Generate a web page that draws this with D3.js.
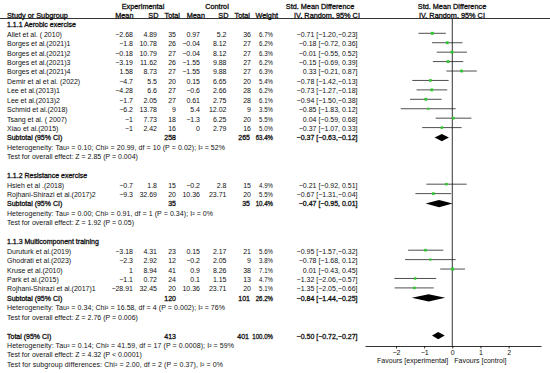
<!DOCTYPE html>
<html>
<head>
<meta charset="utf-8">
<script src="https://cdn.jsdelivr.net/npm/d3@7"></script>
<style>
  body { margin: 0; background: #fff; }
  svg text { font-family: "Liberation Sans", Arial, sans-serif; font-size: 7px; fill: #111; }
  /* the reference uses a thickened regular face for bold, same widths as normal text */
  .b { stroke: #111; stroke-width: 0.3px; }
  .h { font-size: 7.3px; }
</style>
</head>
<body>
<div id="chart"></div>
<script>
// forest plot data
const groupTitles = ["1.1.1 Aerobic exercise", "1.1.2 Resistance exercise", "1.1.3 Multicomponent training"];
const groupOf = [0,0,0,0,0,0,0,0,0,0,0, 1,1, 2,2,2,2,2];
const studies = [
  "Allet et al. ( 2010)", "Borges et al.(2021)1", "Borges et al.(2021)2", "Borges et al.(2021)3",
  "Borges et al.(2021)4", "Demir et al et al. (2022)", "Lee et al.(2013)1", "Lee et al.(2013)2",
  "Schmid et al.(2018)", "Tsang et al.  ( 2007)", "Xiao et al.(2015)",
  "Hsieh et al .(2018)", "Rojhani-Shirazi et al.(2017)2",
  "Duruturk et al.(2019)", "Ghodrati et al.(2023)", "Kruse et al.(2010)", "Park et al.(2015)",
  "Rojhani-Shirazi et al.(2017)1"
];
const expMean = ["-2.68","-1.8","-0.18","-3.19","1.58","-4.7","-4.28","-1.7","-6.2","-1","-1","-0.7","-9.3","-3.18","-2.3","1","-1.1","-28.91"];
const expSD = ["4.89","10.78","10.79","11.62","8.73","5.5","6.6","2.05","13.78","7.73","2.42","1.8","32.69","4.31","2.92","8.94","0.72","32.45"];
const expTotal = [35,26,27,26,27,20,27,27,9,18,16,15,20,23,12,41,24,20];
const ctlMean = ["0.97","-0.04","-0.04","-1.55","-1.55","0.15","-0.6","0.61","5.4","-1.3","0","-0.2","10.36","0.15","-0.2","0.9","0.1","10.36"];
const ctlSD = ["5.2","8.12","8.12","9.88","9.88","6.65","2.66","2.75","12.02","6.25","2.79","2.8","23.71","2.17","2.05","8.26","1.15","23.71"];
const ctlTotal = [36,27,27,27,27,20,28,28,9,20,16,15,20,21,9,38,13,20];
const weight = [6.7,6.2,6.3,6.2,6.3,5.4,6.2,6.1,3.5,5.5,5.0,4.9,5.5,5.6,3.8,7.1,4.7,5.1];
const smd = [-0.71,-0.18,-0.01,-0.15,0.33,-0.78,-0.73,-0.94,-0.85,0.04,-0.37,-0.21,-0.67,-0.95,-0.78,0.01,-1.32,-1.35];
const ciLo = [-1.20,-0.72,-0.55,-0.69,-0.21,-1.42,-1.27,-1.50,-1.83,-0.59,-1.07,-0.92,-1.31,-1.57,-1.68,-0.43,-2.06,-2.05];
const ciHi = [-0.23,0.36,0.52,0.39,0.87,-0.13,-0.18,-0.38,0.12,0.68,0.33,0.51,-0.04,-0.32,0.12,0.45,-0.57,-0.66];

const subExpTotal = [258, 35, 120];
const subCtlTotal = [265, 35, 101];
const subWeight = [63.4, 10.4, 26.2];
const subSmd = [-0.37, -0.47, -0.84];
const subLo = [-0.63, -0.95, -1.44];
const subHi = [-0.12, 0.01, -0.25];
const subHetero = [
  "Heterogeneity: Tau\u00b2 = 0.10; Chi\u00b2 = 20.99, df = 10 (P = 0.02); I\u00b2 = 52%",
  "Heterogeneity: Tau\u00b2 = 0.00; Chi\u00b2 = 0.91, df = 1 (P = 0.34); I\u00b2 = 0%",
  "Heterogeneity: Tau\u00b2 = 0.34; Chi\u00b2 = 16.58, df = 4 (P = 0.002); I\u00b2 = 76%"
];
const subHeteroWidth = [218, 206, 218];
const subTest = [
  "Test for overall effect: Z = 2.85 (P = 0.004)",
  "Test for overall effect: Z = 1.92 (P = 0.05)",
  "Test for overall effect: Z = 2.76 (P = 0.006)"
];

const totalExp = 413, totalCtl = 401, totalWeight = 100.0;
const totalSmd = -0.50, totalLo = -0.72, totalHi = -0.27;
const totalNotes = [
  "Heterogeneity: Tau\u00b2 = 0.14; Chi\u00b2 = 41.59, df = 17 (P = 0.0008); I\u00b2 = 59%",
  "Test for overall effect: Z = 4.32 (P < 0.0001)",
  "Test for subgroup differences: Chi\u00b2 = 2.00, df = 2 (P = 0.37), I\u00b2 = 0%"
];
const totalNotesWidth = [227, null, 216];
const axisTicks = [-2, -1, 0, 1, 2];

const width = 550, height = 373;
const svg = d3.select("#chart").append("svg").attr("width", width).attr("height", height);

const minus = s => String(s).replace(/-/g, "\u2212");
const f2 = v => minus(v.toFixed(2));
const ciText = (m, lo, hi) => `${f2(m)} [${f2(lo)},${hi >= 0 ? " " : ""}${f2(hi)}]`;

// row positions
const rowY = i => 34.3 + 9.43 * i;

// column right edges
const col = { name: 7, eMean: 133, eSD: 157, eTot: 176, cMean: 200, cSD: 226.5, cTot: 251, wt: 273, ci: 357.5 };

const x = d3.scaleLinear().domain([-3.1, 3.15]).range([365, 541]);
const sq = d3.scaleSqrt().domain([0, 7.1]).range([0, 3]);
const axisY = 346;

function txt(xp, yp, s, anchor = "start", cls = null, len = null) {
  const t = svg.append("text").attr("x", xp).attr("y", yp).attr("dy", "0.35em")
    .attr("text-anchor", anchor).attr("class", cls).text(s);
  if (len) t.attr("textLength", len).attr("lengthAdjust", "spacing");
  return t;
}
// weight column is set a bit narrower in the reference
function wtxt(yp, v, cls = null) {
  const t = txt(col.wt, yp, v.toFixed(1) + "%", "end", cls);
  const w = t.node().getComputedTextLength();
  t.attr("textLength", w * 0.87).attr("lengthAdjust", "spacingAndGlyphs");
}
function diamond(yp, m, lo, hi) {
  svg.append("path")
    .attr("d", `M${x(lo)},${yp}L${x(m)},${yp - 3.6}L${x(hi)},${yp}L${x(m)},${yp + 3.6}Z`)
    .attr("fill", "#000");
}

// header
txt(143, rowY(-3), "Experimental", "middle", "b h");
txt(217, rowY(-3), "Control", "middle", "b h");
txt(320, rowY(-3), "Std. Mean Difference", "middle", "b h");
txt(452, rowY(-3), "Std. Mean Difference", "middle", "b h");
const hy = rowY(-2);
txt(col.name, hy, "Study or Subgroup", "start", "b h");
txt(133.5, hy, "Mean", "end", "b h");
txt(158.5, hy, "SD", "end", "b h");
txt(180, hy, "Total", "end", "b h");
txt(205, hy, "Mean", "end", "b h");
txt(228.5, hy, "SD", "end", "b h");
txt(250, hy, "Total", "end", "b h");
txt(278, hy, "Weight", "end", "b h");
txt(327, hy, "IV, Random, 95% CI", "middle", "b h");
txt(452, hy, "IV, Random, 95% CI", "middle", "b h");
svg.append("line").attr("x1", 0).attr("x2", width).attr("y1", 18.5).attr("y2", 18.5)
  .attr("stroke", "#000").attr("stroke-width", 0.8);

// zero line
svg.append("line").attr("x1", x(0)).attr("x2", x(0)).attr("y1", 18.5).attr("y2", axisY)
  .attr("stroke", "#000").attr("stroke-width", 0.8);

let r = -1;
groupTitles.forEach((title, g) => {
  txt(col.name, rowY(r), title, "start", "b");
  r++;
  studies.forEach((name, i) => {
    if (groupOf[i] !== g) return;
    const y = rowY(r);
    txt(col.name, y, name);
    txt(col.eMean, y, minus(expMean[i]), "end");
    txt(col.eSD, y, expSD[i], "end");
    txt(col.eTot, y, expTotal[i], "end");
    txt(col.cMean, y, minus(ctlMean[i]), "end");
    txt(col.cSD, y, ctlSD[i], "end");
    txt(col.cTot, y, ctlTotal[i], "end");
    wtxt(y, weight[i]);
    txt(col.ci, y, ciText(smd[i], ciLo[i], ciHi[i]), "end");
    const ly = y - 1;
    svg.append("line").attr("x1", x(ciLo[i])).attr("x2", x(ciHi[i])).attr("y1", ly).attr("y2", ly)
      .attr("stroke", "#222").attr("stroke-width", 0.8);
    const s = sq(weight[i]);
    svg.append("rect").attr("x", x(smd[i]) - s / 2).attr("y", ly - s / 2)
      .attr("width", s).attr("height", s).attr("fill", "#2ec82e");
    r++;
  });
  const y = rowY(r);
  txt(col.name, y, "Subtotal (95% CI)", "start", "b");
  txt(col.eTot, y, subExpTotal[g], "end", "b");
  txt(col.cTot - 1, y, subCtlTotal[g], "end", "b");
  wtxt(y, subWeight[g], "b");
  txt(col.ci, y, ciText(subSmd[g], subLo[g], subHi[g]), "end", "b");
  diamond(y - 0.5, subSmd[g], subLo[g], subHi[g]);
  r++;
  txt(col.name, rowY(r++), subHetero[g], "start", null, subHeteroWidth[g]);
  txt(col.name, rowY(r++), subTest[g]);
  r++;
});

// overall
const ty = rowY(r);
txt(col.name, ty, "Total (95% CI)", "start", "b");
txt(col.eTot, ty, totalExp, "end", "b");
txt(col.cTot - 2, ty, totalCtl, "end", "b");
wtxt(ty, totalWeight, "b");
txt(col.ci, ty, ciText(totalSmd, totalLo, totalHi), "end", "b");
diamond(ty - 0.5, totalSmd, totalLo, totalHi);
r++;
totalNotes.forEach((s, k) => txt(col.name, rowY(r++), s, "start", null, totalNotesWidth[k]));

// axis
const axis = svg.append("g").attr("transform", `translate(0,${axisY})`)
  .call(d3.axisBottom(x).tickValues(axisTicks).tickSize(2.5).tickSizeOuter(0).tickFormat(d => minus(d)));
axis.select(".domain").attr("stroke", "#000").attr("stroke-width", 0.8);
axis.selectAll(".tick line").attr("stroke", "#000").attr("stroke-width", 0.8);
axis.selectAll(".tick text").attr("y", 4).attr("dy", "0.71em")
  .style("font-family", "Liberation Sans, Arial, sans-serif").style("font-size", "7px").attr("fill", "#111");

txt(x(0) - 4, 361, "Favours [experimental]", "end");
txt(x(0) + 2, 361, "Favours [control]", "start");
</script>
</body>
</html>
